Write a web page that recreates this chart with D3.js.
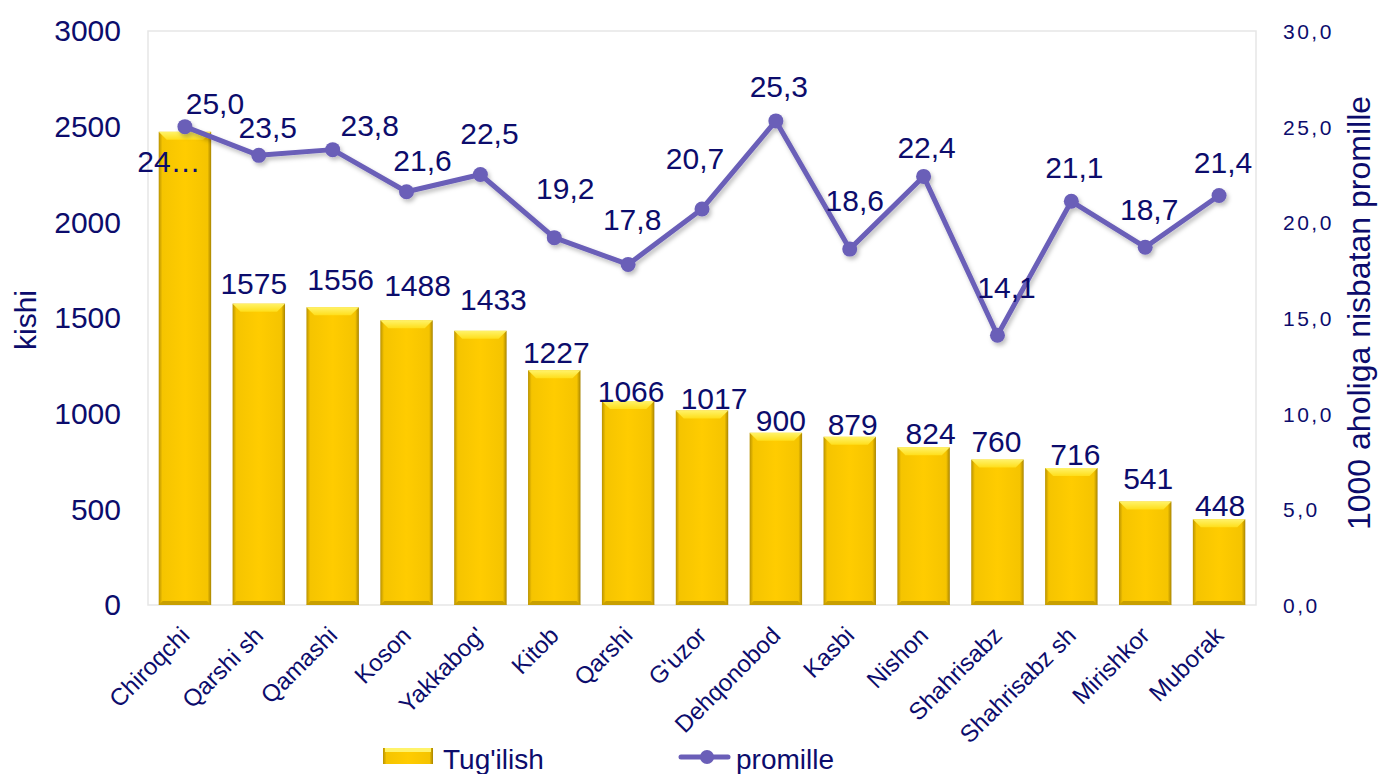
<!DOCTYPE html>
<html>
<head>
<meta charset="utf-8">
<script src="https://cdn.jsdelivr.net/npm/d3@7"></script>
<style>
  body { margin: 0; background: #fff; }
  text { font-family: "Liberation Sans", Arial, sans-serif; fill: #0c0c6c; }
</style>
</head>
<body>
<div id="chart"></div>
<script>
var aCategories = ["Chiroqchi", "Qarshi sh", "Qamashi", "Koson", "Yakkabog'", "Kitob", "Qarshi", "G'uzor",
  "Dehqonobod", "Kasbi", "Nishon", "Shahrisabz", "Shahrisabz sh", "Mirishkor", "Muborak"];
var aBirths = [2473, 1575, 1556, 1488, 1433, 1227, 1066, 1017, 900, 879, 824, 760, 716, 541, 448];
var aPromille = [25.0, 23.5, 23.8, 21.6, 22.5, 19.2, 17.8, 20.7, 25.3, 18.6, 22.4, 14.1, 21.1, 18.7, 21.4];
var aLeftTicks = [0, 500, 1000, 1500, 2000, 2500, 3000];
var aRightTicks = [0, 5, 10, 15, 20, 25, 30];

var iWidth = 1379, iHeight = 774;
var oPlot = {left: 148, right: 1256, top: 31, bottom: 605};
var sNavy = "#0c0c6c", sLine = "#6a5eb8";

// label nudges (dx, dy) as placed in the original chart
var aBarNudge = [[-16, 40], [-5, -10], [8, -17], [11, -24], [13, -21], [2, -7], [3, 1], [12, -1],
  [5, -2], [3, -2], [7, -3], [-1, -8], [4, -3], [3, -12], [1, -3]];
var aLineNudge = [[30, -13], [9, -17], [37, -14], [16, -21], [9, -31], [11, -39], [4, -34], [-7, -40],
  [3, -24], [5, -38], [3, -18], [9, -37], [3, -23], [4, -27], [4, -23]];

var mySvg = d3.select("#chart").append("svg")
  .attr("width", iWidth).attr("height", iHeight);

var myDefs = mySvg.append("defs");
var gBar = myDefs.append("linearGradient").attr("id", "gBar").attr("x1", 0).attr("x2", 1).attr("y1", 0).attr("y2", 0);
gBar.append("stop").attr("offset", "0%").attr("stop-color", "#b99200");
gBar.append("stop").attr("offset", "7%").attr("stop-color", "#f5c400");
gBar.append("stop").attr("offset", "50%").attr("stop-color", "#ffcc00");
gBar.append("stop").attr("offset", "93%").attr("stop-color", "#f5c400");
gBar.append("stop").attr("offset", "100%").attr("stop-color", "#a88400");
var gTop = myDefs.append("linearGradient").attr("id", "gTop").attr("x1", 0).attr("x2", 0).attr("y1", 0).attr("y2", 1);
gTop.append("stop").attr("offset", "0%").attr("stop-color", "#fff36a");
gTop.append("stop").attr("offset", "100%").attr("stop-color", "#ffde1a");
var fShadow = myDefs.append("filter").attr("id", "fShadow").attr("x", "-5%").attr("y", "-20%").attr("width", "110%").attr("height", "140%");
fShadow.append("feDropShadow").attr("dx", 2).attr("dy", 3).attr("stdDeviation", 2)
  .attr("flood-color", "#000").attr("flood-opacity", 0.25);

var xScale = d3.scaleBand().domain(aCategories).range([oPlot.left, oPlot.right]).paddingInner(0.29).paddingOuter(0.145);
var yLeft = d3.scaleLinear().domain([0, 3000]).range([oPlot.bottom, oPlot.top]);
var yRight = d3.scaleLinear().domain([0, 30]).range([oPlot.bottom, oPlot.top]);

function fMid(i) { return xScale(aCategories[i]) + xScale.bandwidth() / 2; }
function fComma(d) { return d3.format(".1f")(d).replace(".", ","); }

// plot frame
mySvg.append("rect")
  .attr("x", oPlot.left).attr("y", oPlot.top)
  .attr("width", oPlot.right - oPlot.left).attr("height", oPlot.bottom - oPlot.top)
  .attr("fill", "none").attr("stroke", "#e6e6e6").attr("stroke-width", 1.5);

// axes
var axisLeft = d3.axisLeft(yLeft).tickValues(aLeftTicks).tickSize(0).tickPadding(0).tickFormat(d3.format("d"));
var gLeft = mySvg.append("g").attr("transform", "translate(" + (oPlot.left - 27) + ",0)").call(axisLeft);
gLeft.select(".domain").remove();
gLeft.selectAll("text").attr("fill", sNavy).style("font-size", "30px").attr("dy", "0.33em");

var axisRight = d3.axisRight(yRight).tickValues(aRightTicks).tickSize(0).tickPadding(0).tickFormat(fComma);
var gRight = mySvg.append("g").attr("transform", "translate(" + (oPlot.right + 27) + ",0)").call(axisRight);
gRight.select(".domain").remove();
gRight.selectAll("text").attr("fill", sNavy).style("font-size", "21px").style("letter-spacing", "2.5px").attr("dy", "0.35em");

// axis titles
mySvg.append("text").attr("transform", "translate(36," + ((oPlot.top + oPlot.bottom) / 2 + 2) + ") rotate(-90)")
  .attr("text-anchor", "middle").style("font-size", "30px").text("kishi");
mySvg.append("text").attr("transform", "translate(1370,313) rotate(-90)")
  .attr("text-anchor", "middle").style("font-size", "32px").text("1000 aholiga nisbatan promille");

// bars
var myBars = mySvg.append("g").selectAll(".BarNode")
  .data(aBirths)
  .enter().append("g").attr("class", "BarNode");

myBars.append("rect")
  .attr("x", function(d, i) { return xScale(aCategories[i]); })
  .attr("y", function(d) { return yLeft(d); })
  .attr("width", xScale.bandwidth())
  .attr("height", function(d) { return yLeft(0) - yLeft(d); })
  .attr("fill", "url(#gBar)");

myBars.append("path")
  .attr("d", function(d, i) {
    var x0 = xScale(aCategories[i]), x1 = x0 + xScale.bandwidth(), y0 = yLeft(d), b = 8;
    return "M" + x0 + "," + y0 + "L" + x1 + "," + y0 + "L" + (x1 - b) + "," + (y0 + b) + "L" + (x0 + b) + "," + (y0 + b) + "Z";
  })
  .attr("fill", "url(#gTop)");

myBars.append("path")
  .attr("d", function(d, i) {
    var x0 = xScale(aCategories[i]), x1 = x0 + xScale.bandwidth(), y0 = yLeft(0), b = 4;
    return "M" + x0 + "," + y0 + "L" + x1 + "," + y0 + "L" + (x1 - b) + "," + (y0 - b) + "L" + (x0 + b) + "," + (y0 - b) + "Z";
  })
  .attr("fill", "#c89f00");

myBars.append("text")
  .attr("x", function(d, i) { return fMid(i) + aBarNudge[i][0]; })
  .attr("y", function(d, i) { return yLeft(d) + aBarNudge[i][1]; })
  .attr("text-anchor", "middle")
  .style("font-size", "30px")
  .text(function(d, i) { return i === 0 ? String(d).slice(0, 2) + "…" : d; });

// category labels
mySvg.append("g").selectAll(".CatLabel")
  .data(aCategories)
  .enter().append("text")
  .attr("class", "CatLabel")
  .attr("text-anchor", "end")
  .attr("transform", function(d, i) {
    return "translate(" + (fMid(i) + 6) + "," + (oPlot.bottom + 32) + ") rotate(-45)";
  })
  .style("font-size", "24px")
  .text(function(d) { return d; });

// promille line
var fLine = d3.line()
  .x(function(d, i) { return fMid(i); })
  .y(function(d) { return yRight(d); });

var gLine = mySvg.append("g").attr("filter", "url(#fShadow)");
gLine.append("path").datum(aPromille)
  .attr("d", fLine).attr("fill", "none")
  .attr("stroke", sLine).attr("stroke-width", 5).attr("stroke-linejoin", "round");
gLine.selectAll("circle").data(aPromille).enter().append("circle")
  .attr("cx", function(d, i) { return fMid(i); })
  .attr("cy", function(d) { return yRight(d); })
  .attr("r", 7.5).attr("fill", sLine);

mySvg.append("g").selectAll(".LineLabel")
  .data(aPromille)
  .enter().append("text")
  .attr("class", "LineLabel")
  .attr("text-anchor", "middle")
  .attr("x", function(d, i) { return fMid(i) + aLineNudge[i][0]; })
  .attr("y", function(d, i) { return yRight(d) + aLineNudge[i][1]; })
  .style("font-size", "30px")
  .text(fComma);

// legend
var gLegend = mySvg.append("g");
gLegend.append("rect").attr("x", 383).attr("y", 748).attr("width", 50).attr("height", 16).attr("fill", "url(#gBar)");
gLegend.append("rect").attr("x", 385).attr("y", 748).attr("width", 46).attr("height", 4).attr("fill", "#fff36a");
gLegend.append("text").attr("x", 443).attr("y", 769).style("font-size", "28px").text("Tug'ilish");
gLegend.append("line").attr("x1", 681).attr("x2", 728).attr("y1", 757).attr("y2", 757)
  .attr("stroke", sLine).attr("stroke-width", 5).attr("stroke-linecap", "round");
gLegend.append("circle").attr("cx", 707).attr("cy", 757).attr("r", 7).attr("fill", sLine);
gLegend.append("text").attr("x", 736).attr("y", 769).style("font-size", "28px").text("promille");
</script>
</body>
</html>
